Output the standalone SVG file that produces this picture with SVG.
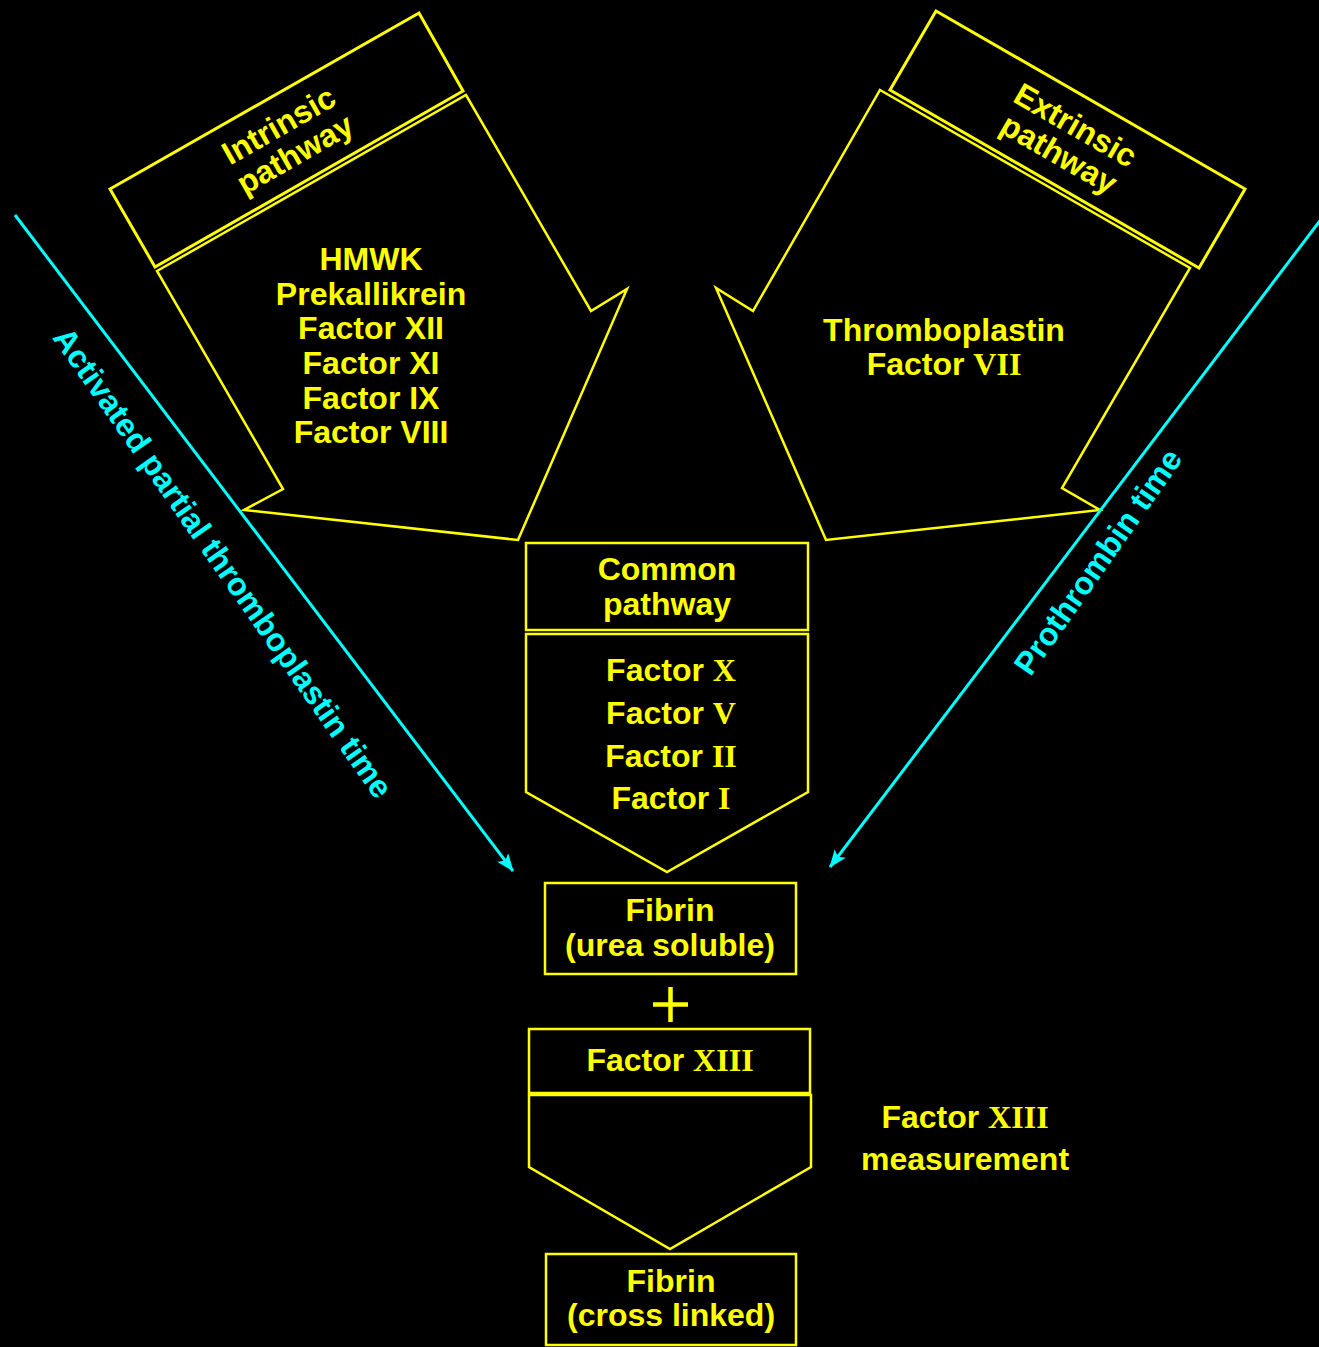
<svg xmlns="http://www.w3.org/2000/svg" width="1319" height="1347" viewBox="0 0 1319 1347">
<defs>
<style>
.shape{fill:none;stroke:#FFFF00;stroke-width:2.5;stroke-linejoin:miter}
.hdr{fill:none;stroke:#FFFF00;stroke-width:3}
.t{font-family:"Liberation Sans",Arial,sans-serif;font-weight:bold;font-size:32px;fill:#FFFF00;text-anchor:middle}
.r{font-family:"Liberation Serif","Times New Roman",serif;font-weight:bold}
.c{font-family:"Liberation Sans",Arial,sans-serif;font-weight:bold;font-size:32px;fill:#00FFFF;text-anchor:middle}
.conn{stroke:#00FFFF;stroke-width:3;fill:none}
</style>
<marker id="ah" viewBox="0 0 18 14" refX="17" refY="7" markerWidth="18" markerHeight="14" markerUnits="userSpaceOnUse" orient="auto">
<path d="M0,0 L18,7 L0,14 L4,7 z" fill="#00FFFF"/>
</marker>
</defs>
<rect x="0" y="0" width="1319" height="1347" fill="#000000"/>

<g id="intrinsic">
<polygon class="hdr" points="110,189 419,13 463,91 155,267"/>
<polygon class="shape" points="157,271 466,95 591,311 627,289 518,540 244,510 283,489"/>
<g transform="translate(287,140) rotate(-29.7)">
<text class="t" x="0" y="-6">Intrinsic</text>
<text class="t" x="0" y="27">pathway</text>
</g>
<text class="t" x="371" y="270">HMWK</text>
<text class="t" x="371" y="305">Prekallikrein</text>
<text class="t" x="371" y="339">Factor XII</text>
<text class="t" x="371" y="374">Factor XI</text>
<text class="t" x="371" y="409">Factor IX</text>
<text class="t" x="371" y="443">Factor VIII</text>
</g>

<g id="extrinsic">
<polygon class="hdr" points="936,11 1245,189 1199,268 890,90"/>
<polygon class="shape" points="880,90 1190,268 1062,488 1100,510 826,540 716,288 753,311"/>
<g transform="translate(1067,140) rotate(29.9)">
<text class="t" x="0" y="-6">Extrinsic</text>
<text class="t" x="0" y="27">pathway</text>
</g>
<text class="t" x="944" y="341">Thromboplastin</text>
<text class="t" x="944" y="375">Factor <tspan class="r">VII</tspan></text>
</g>

<g id="common">
<rect class="shape" x="526" y="543" width="282" height="87"/>
<polygon class="shape" points="526,634 808,634 808,792 667,872 526,792"/>
<text class="t" x="667" y="580">Common</text>
<text class="t" x="667" y="615">pathway</text>
<text class="t" x="671" y="681">Factor <tspan class="r">X</tspan></text>
<text class="t" x="671" y="724">Factor <tspan class="r">V</tspan></text>
<text class="t" x="671" y="767">Factor <tspan class="r">II</tspan></text>
<text class="t" x="671" y="809">Factor <tspan class="r">I</tspan></text>
</g>

<g id="fibrin-soluble">
<rect class="shape" x="545" y="883" width="251" height="91"/>
<text class="t" x="670" y="921">Fibrin</text>
<text class="t" x="670" y="956">(urea soluble)</text>
</g>

<g id="plus">
<line x1="670.5" y1="987" x2="670.5" y2="1022" stroke="#FFFF00" stroke-width="4.5"/>
<line x1="653" y1="1004.5" x2="688" y2="1004.5" stroke="#FFFF00" stroke-width="4.5"/>
</g>

<g id="factor13">
<rect class="shape" x="529" y="1029" width="281" height="64"/>
<polygon class="shape" points="529,1095 811,1095 811,1167 670,1249 529,1167"/>
<text class="t" x="670" y="1071">Factor <tspan class="r">XIII</tspan></text>
</g>

<g id="factor13-measurement">
<text class="t" x="965" y="1128">Factor <tspan class="r">XIII</tspan></text>
<text class="t" x="965" y="1170">measurement</text>
</g>

<g id="fibrin-crosslinked">
<rect class="shape" x="546" y="1254" width="250" height="91"/>
<text class="t" x="671" y="1292">Fibrin</text>
<text class="t" x="671" y="1326">(cross linked)</text>
</g>

<g id="connectors">
<line class="conn" x1="15" y1="215" x2="513" y2="871" marker-end="url(#ah)"/>
<line class="conn" x1="1322" y1="218" x2="830" y2="867" marker-end="url(#ah)"/>
<text class="c" transform="translate(214,569) rotate(55)" x="0" y="0">Activated partial thromboplastin time</text>
<text class="c" transform="translate(1107,568) rotate(-55)" x="0" y="0">Prothrombin time</text>
</g>
</svg>
